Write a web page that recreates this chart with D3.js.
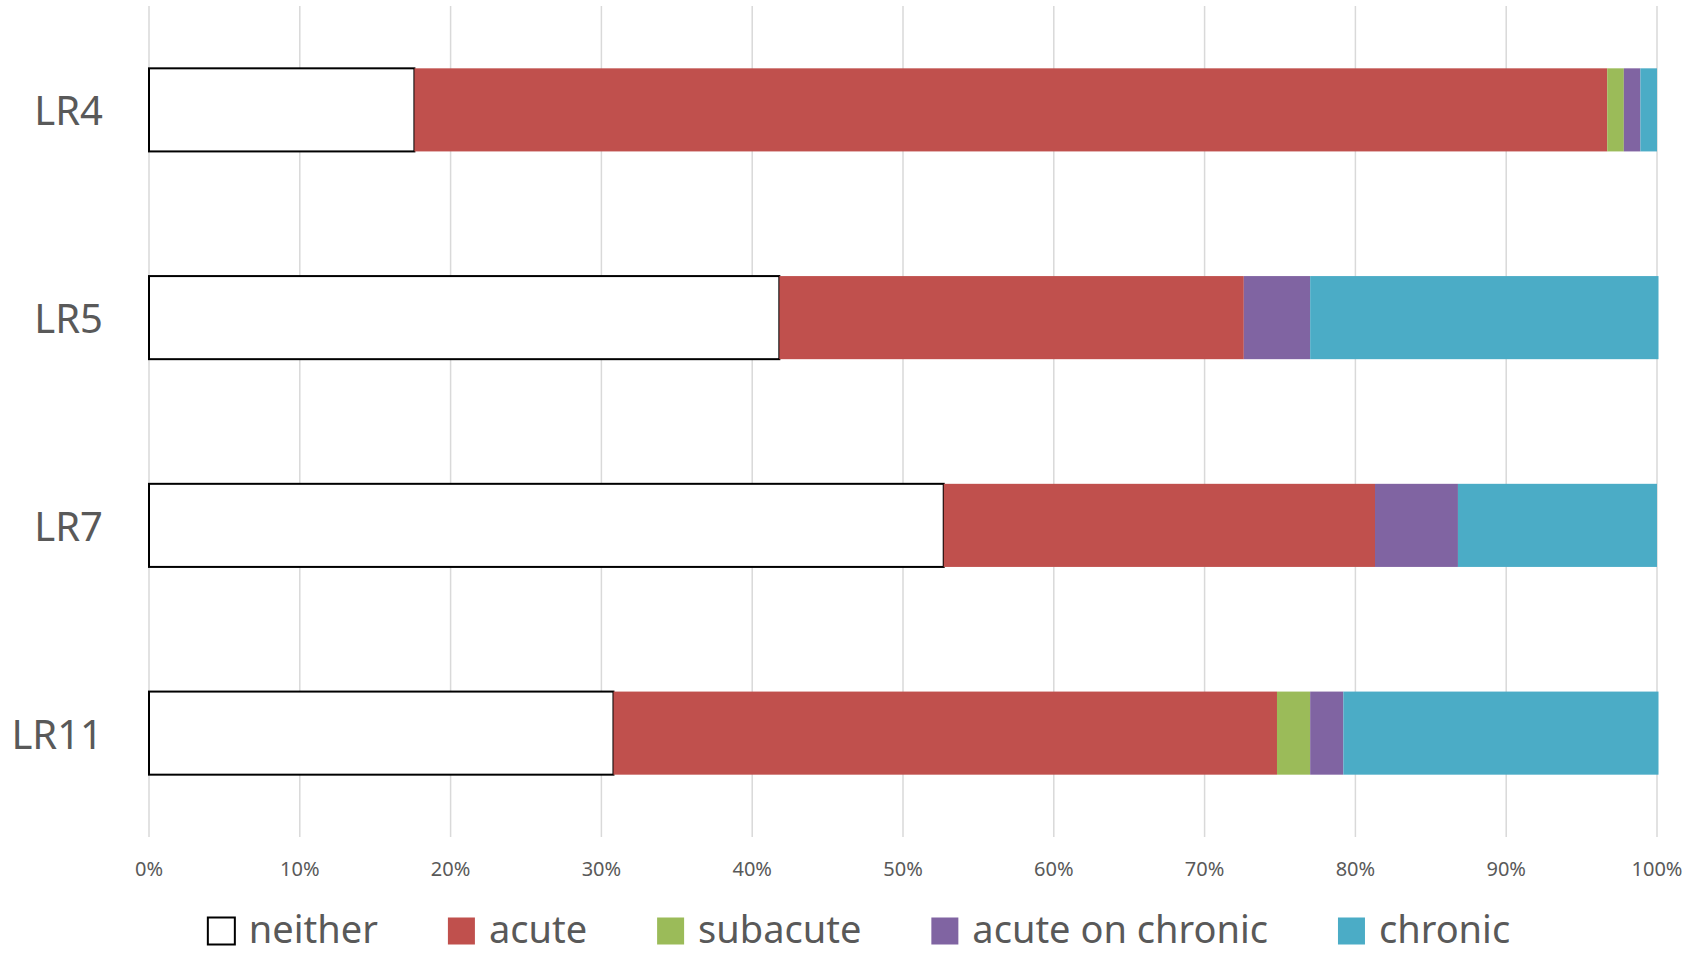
<!DOCTYPE html>
<html lang="en">
<head>
    <meta charset="UTF-8">
    <title>LR stacked bars</title>
    <script src="https://cdn.jsdelivr.net/npm/d3@7"></script>
    <style>
        html, body { margin: 0; padding: 0; background: #fff; }
        text { font-family: "Noto Sans", sans-serif; fill: #595959; }
    </style>
</head>
<body>
<svg width="1701" height="957" id="chart"></svg>
<script>
    // categories, top to bottom
    const categories = ["LR4", "LR5", "LR7", "LR11"];
    const seriesNames = ["neither", "acute", "subacute", "acute on chronic", "chronic"];
    const seriesColors = ["#ffffff", "#C0504D", "#9BBB59", "#8064A2", "#4BACC6"];
    // shares in percent, one array per series (order follows categories)
    const neither = [17.6, 41.8, 52.7, 30.8];
    const acute = [79.1, 30.8, 28.6, 44.0];
    const subacute = [1.1, 0, 0, 2.2];
    const acuteOnChronic = [1.1, 4.4, 5.5, 2.2];
    const chronic = [1.1, 23.1, 13.2, 20.9];
    const tickValues = [0, 10, 20, 30, 40, 50, 60, 70, 80, 90, 100];

    const svg = d3.select("#chart");
    const plotLeft = 149, plotRight = 1657, plotTop = 6, plotBottom = 837;

    const x = d3.scaleLinear().domain([0, 100]).range([plotLeft, plotRight]);
    const y = d3.scaleBand().domain(categories).range([plotTop, plotBottom])
        .paddingInner(0.6).paddingOuter(0.3);

    // table for the stack
    const rows = categories.map((c, i) => ({
        cat: c,
        "neither": neither[i],
        "acute": acute[i],
        "subacute": subacute[i],
        "acute on chronic": acuteOnChronic[i],
        "chronic": chronic[i]
    }));
    const stacked = d3.stack().keys(seriesNames)(rows);

    // gridlines
    svg.append("g")
        .selectAll("line")
        .data(tickValues)
        .join("line")
        .attr("x1", d => x(d)).attr("x2", d => x(d))
        .attr("y1", plotTop).attr("y2", plotBottom)
        .attr("stroke", "#d9d9d9")
        .attr("stroke-width", 1.5);

    // tick labels
    svg.append("g")
        .selectAll("text")
        .data(tickValues)
        .join("text")
        .attr("x", d => x(d))
        .attr("y", 868)
        .attr("text-anchor", "middle")
        .attr("dominant-baseline", "central")
        .attr("font-size", 20)
        .text(d => d + "%");

    // bars
    stacked.forEach((layer, k) => {
        svg.append("g")
            .selectAll("rect")
            .data(layer)
            .join("rect")
            .attr("x", d => x(d[0]))
            .attr("y", d => y(d.data.cat))
            .attr("width", d => x(d[1]) - x(d[0]))
            .attr("height", y.bandwidth())
            .attr("fill", seriesColors[k])
            .attr("stroke", k === 0 ? "#000" : "none")
            .attr("stroke-width", k === 0 ? 2 : 0);
    });

    // category labels
    svg.append("g")
        .selectAll("text")
        .data(categories)
        .join("text")
        .attr("x", 103)
        .attr("y", d => y(d) + y.bandwidth() / 2)
        .attr("text-anchor", "end")
        .attr("dominant-baseline", "central")
        .attr("font-size", 40)
        .text(d => d);

    // legend
    const legend = svg.append("g");
    const box = 27, gap = 14, spacing = 70, legY = 928;
    let cx = 0;
    seriesNames.forEach((name, i) => {
        const g = legend.append("g");
        g.append("rect")
            .attr("x", 0).attr("y", legY - box / 2 + 3)
            .attr("width", box).attr("height", box)
            .attr("fill", seriesColors[i])
            .attr("stroke", i === 0 ? "#000" : "none")
            .attr("stroke-width", 2);
        const t = g.append("text")
            .attr("x", box + gap)
            .attr("y", legY)
            .attr("dominant-baseline", "central")
            .attr("font-size", 38)
            .text(name);
        const w = box + gap + t.node().getComputedTextLength();
        g.attr("transform", "translate(" + cx + ",0)");
        cx += w + spacing;
    });
    const total = cx - spacing;
    legend.attr("transform", "translate(" + (859 - total / 2) + ",0)");
</script>
</body>
</html>
